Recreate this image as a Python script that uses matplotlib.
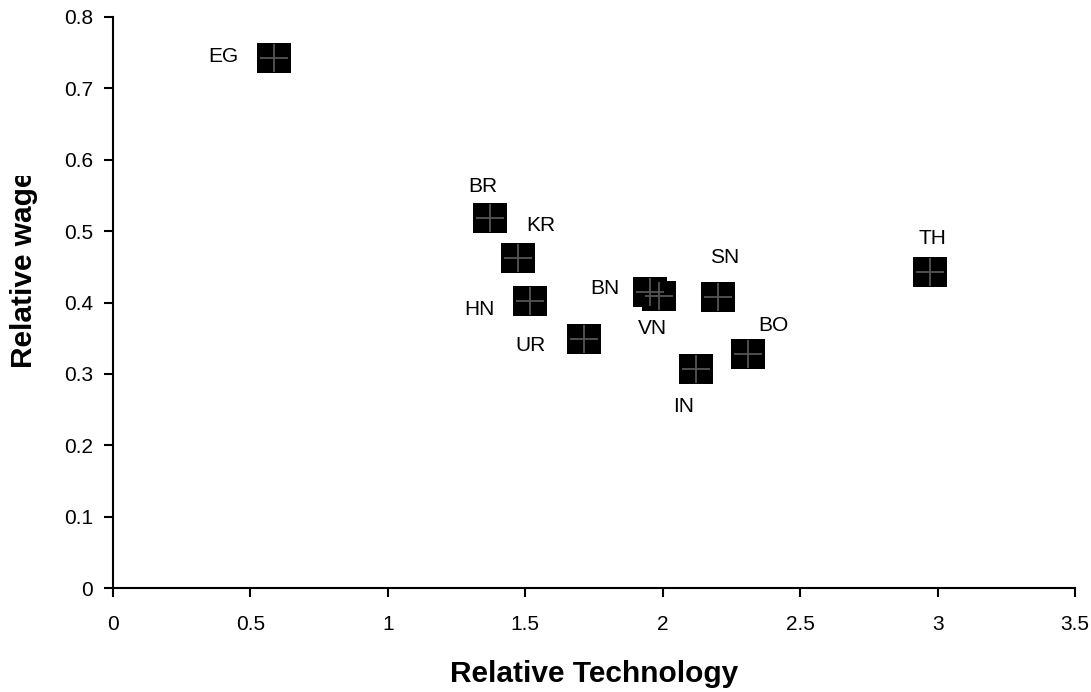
import matplotlib.pyplot as plt
from matplotlib.patches import Rectangle
from matplotlib.path import Path
import numpy as np

countries = ['EG', 'BR', 'KR', 'HN', 'UR', 'BN', 'VN', 'SN', 'IN', 'BO', 'TH']
tech = [0.586, 1.371, 1.473, 1.517, 1.713, 1.953, 1.986, 2.201, 2.121, 2.310, 2.972]
wage = [0.742, 0.518, 0.463, 0.402, 0.349, 0.415, 0.409, 0.408, 0.307, 0.328, 0.443]

# label offsets in pixels (dx, dy), converted to points below
offsets = {
    'EG': (-51, 2), 'BR': (-7, 32), 'KR': (23, 32), 'HN': (-51, -8),
    'UR': (-53, -7), 'BN': (-45, 3), 'VN': (-6, -32), 'SN': (7, 39),
    'IN': (-12, -38), 'BO': (25, 28), 'TH': (3, 33),
}

plt.rcParams['font.family'] = ['Liberation Sans', 'DejaVu Sans']

W, H = 1091, 692
fig = plt.figure(figsize=(W / 100, H / 100), dpi=100)
ax = fig.add_axes([113 / W, 1 - 588 / H, 962 / W, 571 / H])

box = Path([(-1, -0.91), (1, -0.91), (1, 0.91), (-1, 0.91), (-1, -0.91)],
           [Path.MOVETO, Path.LINETO, Path.LINETO, Path.LINETO, Path.CLOSEPOLY])
ax.plot(tech, wage, linestyle='none', marker=box, markersize=24.5,
        markerfacecolor='black', markeredgecolor='black', markeredgewidth=0,
        zorder=3)
ax.plot(tech, wage, linestyle='none', marker='+', markersize=19.5,
        markeredgecolor='#555555', markeredgewidth=1.3, zorder=4)

for c, x, y in zip(countries, tech, wage):
    dx, dy = offsets[c]
    ax.annotate(c, (x, y), xytext=(dx * 0.72, dy * 0.72),
                textcoords='offset points', ha='center', va='center',
                fontsize=15, color='black')

ax.set_xlim(0, 3.5)
ax.set_ylim(0, 0.8)
ax.set_xticks(np.arange(0, 3.51, 0.5))
ax.set_yticks(np.arange(0, 0.81, 0.1))
ax.set_xticklabels(['0', '0.5', '1', '1.5', '2', '2.5', '3', '3.5'])
ax.set_yticklabels(['0', '0.1', '0.2', '0.3', '0.4', '0.5', '0.6', '0.7', '0.8'])

for s in ['top', 'right']:
    ax.spines[s].set_visible(False)
for s in ['left', 'bottom']:
    ax.spines[s].set_linewidth(1.5)
ax.tick_params(direction='out', length=6.5, width=1.5, labelsize=15)
ax.tick_params(axis='x', pad=13)
ax.tick_params(axis='y', pad=8)

ax.set_xlabel('Relative Technology', fontsize=21.5, fontweight='bold')
ax.xaxis.set_label_coords(0.5, -(674 - 588) / 571)
ax.xaxis.label.set_va('center')

ax.set_ylabel('Relative wage', fontsize=21.5, fontweight='bold')
lab = ax.yaxis.label
lab.set_rotation_mode('default')
lab.set_ha('center')
lab.set_va('bottom')
ax.yaxis.set_label_coords((24 - 113) / 962, (588 - 368) / 571)
lab.set_clip_path(Rectangle((0, 0), 1, (H - 176) / H, transform=fig.transFigure))

fig.savefig('out.png', dpi=100)
